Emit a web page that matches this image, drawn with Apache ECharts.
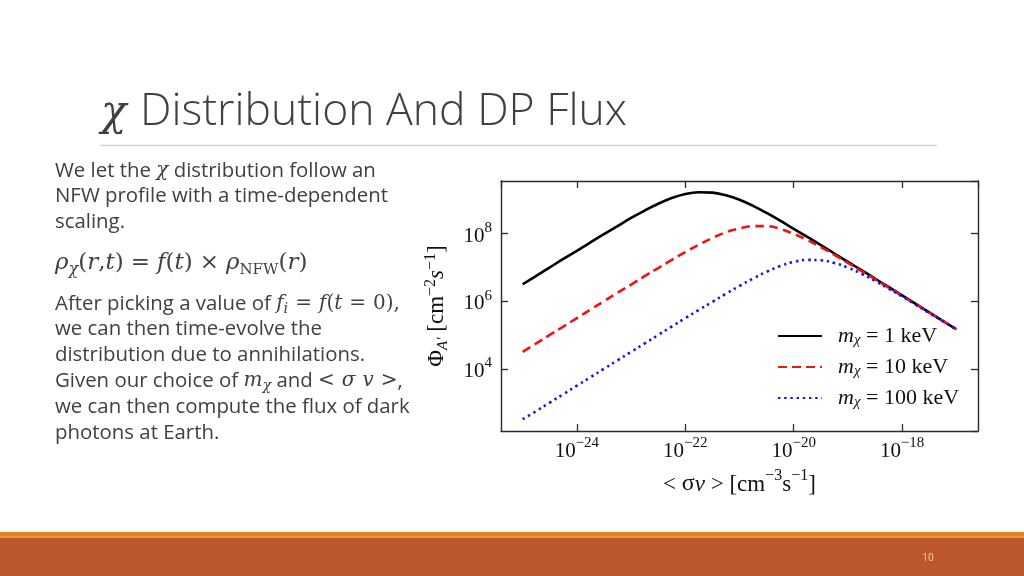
<!DOCTYPE html>
<html>
<head>
<meta charset="utf-8">
<script src="https://cdn.jsdelivr.net/npm/echarts@6/dist/echarts.min.js"></script>
<style>
  html, body { margin: 0; padding: 0; background: #ffffff; }
  #chart { width: 1024px; height: 576px; }
</style>
</head>
<body>
<div id="chart"></div>
<script>
// ---- data, values as log10 ----
const log10SigmaV = [-25, -24.75, -24.5, -24.25, -24, -23.75, -23.5, -23.25, -23, -22.75, -22.5, -22.25, -22, -21.75, -21.5, -21.25, -21,
                     -20.75, -20.5, -20.25, -20, -19.75, -19.5, -19.25, -19, -18.75, -18.5, -18.25, -18, -17.75, -17.5, -17.25, -17];
const log10Flux1keV   = [6.50, 6.75, 7.00, 7.25, 7.49, 7.74, 7.98, 8.22, 8.46, 8.68, 8.88, 9.05, 9.17, 9.22, 9.21, 9.13, 9.00,
                         8.82, 8.61, 8.38, 8.14, 7.90, 7.66, 7.41, 7.16, 6.92, 6.67, 6.42, 6.17, 5.92, 5.67, 5.42, 5.17];
const log10Flux10keV  = [4.50, 4.75, 5.00, 5.25, 5.50, 5.75, 6.00, 6.25, 6.49, 6.74, 6.98, 7.22, 7.45, 7.67, 7.87, 8.04, 8.15,
                         8.22, 8.22, 8.14, 7.99, 7.81, 7.60, 7.37, 7.13, 6.89, 6.65, 6.40, 6.16, 5.91, 5.67, 5.42, 5.17];
const log10Flux100keV = [2.51, 2.75, 3.00, 3.25, 3.50, 3.75, 4.00, 4.25, 4.50, 4.75, 5.00, 5.25, 5.50, 5.74, 5.98, 6.22, 6.45,
                         6.67, 6.87, 7.04, 7.16, 7.22, 7.21, 7.13, 6.99, 6.81, 6.60, 6.37, 6.14, 5.90, 5.65, 5.41, 5.16];
const massLabels = ['1 keV', '10 keV', '100 keV'];
const xTickExps = [-24, -22, -20, -18];
const yTickExps = [4, 6, 8];

const seriesValues = [log10Flux1keV, log10Flux10keV, log10Flux100keV];
const seriesColors = ['#000000', '#ee1414', '#1616d8'];
const seriesDash = ['solid', [9, 5], [2.4, 3.8]];

const SERIF = '"Liberation Serif", "DejaVu Serif", serif';
const MATH = '"DejaVu Serif", "Liberation Serif", serif';
const SANS = '"Open Sans", Lato, "Noto Sans", sans-serif';
const TEXT_COLOR = '#404040';

function pairs(xs, ys) { return xs.map((x, i) => [x, ys[i]]); }
function isTick(v, list) { return list.some(t => Math.abs(t - v) < 1e-6); }
function expStr(v) { return (v < 0 ? '\u2212' : '') + Math.abs(Math.round(v)); }

const tickRich = {
  b: { fontFamily: SERIF, fontSize: 21, color: '#111', lineHeight: 26, verticalAlign: 'bottom' },
  e: { fontFamily: SERIF, fontSize: 15, color: '#111', lineHeight: 17, verticalAlign: 'top' }
};

const axisLineStyle = { color: '#2a2a2a', width: 1.4 };
const tickStyle = { show: true, inside: true, length: 7, lineStyle: { color: '#2a2a2a', width: 1.3 } };

const chart = echarts.init(document.getElementById('chart'), null, { renderer: 'canvas' });

const bodyRich = {
  t: { fontFamily: SANS, fontSize: 20.4, color: TEXT_COLOR, lineHeight: 26 },
  m: { fontFamily: MATH, fontStyle: 'italic', fontSize: 20, color: TEXT_COLOR, lineHeight: 26 },
  mn: { fontFamily: MATH, fontSize: 20, color: TEXT_COLOR, lineHeight: 26 },
  ms: { fontFamily: MATH, fontStyle: 'italic', fontSize: 14.5, color: TEXT_COLOR, lineHeight: 16, verticalAlign: 'bottom' },
  sp: { width: 7 },
  fm: { fontFamily: MATH, fontStyle: 'italic', fontSize: 23, color: TEXT_COLOR, lineHeight: 30 },
  fn: { fontFamily: MATH, fontSize: 23, color: TEXT_COLOR, lineHeight: 30 },
  fs: { fontFamily: MATH, fontStyle: 'italic', fontSize: 16, color: TEXT_COLOR, lineHeight: 18, verticalAlign: 'bottom' },
  fsn: { fontFamily: MATH, fontSize: 15, color: TEXT_COLOR, lineHeight: 18, verticalAlign: 'bottom' },
  fsp: { width: 7 }
};

const bodyLines = [
  { y: 171, text: '{t|We let the }{m|χ}{t| distribution follow an}' },
  { y: 196.5, text: '{t|NFW profile with a time-dependent}' },
  { y: 222, text: '{t|scaling.}' },
  { y: 263, text: '{fm|ρ}{fs|χ}{fn|(}{fm|r}{fn|,}{fm|t}{fn|)}{fsp|}{fn|=}{fsp|}{fm|f}{fn|(}{fm|t}{fn|)}{fsp|}{fn|×}{fsp|}{fm|ρ}{fsn|NFW}{fn|(}{fm|r}{fn|)}' },
  { y: 304, text: '{t|After picking a value of }{m|f}{ms|i}{sp|}{mn|=}{sp|}{m|f}{mn|(}{m|t}{sp|}{mn|=}{sp|}{mn|0),}' },
  { y: 329.5, text: '{t|we can then time-evolve the}' },
  { y: 355, text: '{t|distribution due to annihilations.}' },
  { y: 381, text: '{t|Given our choice of }{m|m}{ms|χ}{t| and }{mn|<}{sp|}{m|σ}{sp|}{m|v}{sp|}{mn|>}{t|,}' },
  { y: 407, text: '{t|we can then compute the flux of dark}' },
  { y: 433, text: '{t|photons at Earth.}' }
];

const graphics = [
  { type: 'text', x: 101, y: 114, style: { text: 'χ', fontFamily: MATH, fontStyle: 'italic', fontSize: 42, fill: TEXT_COLOR, verticalAlign: 'middle' } },
  { type: 'text', x: 140, y: 112, style: { text: 'Distribution And DP Flux', fontFamily: SANS, fontWeight: 300, fontSize: 44.5, fill: TEXT_COLOR, verticalAlign: 'middle' } },
  { type: 'line', shape: { x1: 100, y1: 145.5, x2: 937, y2: 145.5 }, style: { stroke: '#d4d4d4', lineWidth: 1.5 } },
  { type: 'rect', shape: { x: 0, y: 532, width: 1024, height: 5 }, style: { fill: '#df8420' } },
  { type: 'rect', shape: { x: 0, y: 536.5, width: 1024, height: 1 }, style: { fill: '#eeaa66' } },
  { type: 'rect', shape: { x: 0, y: 537.5, width: 1024, height: 39 }, style: { fill: '#bc582c' } },
  { type: 'text', x: 928, y: 558, style: { text: '10', fontFamily: SANS, fontSize: 10, fill: '#f6d2b4', align: 'center', verticalAlign: 'middle' } }
];
bodyLines.forEach(l => graphics.push({
  type: 'text', x: 55, y: l.y,
  style: { text: l.text, rich: bodyRich, fill: TEXT_COLOR, verticalAlign: 'middle' }
}));

const legendRich = {
  pad: { width: 11 },
  m: { fontFamily: SERIF, fontStyle: 'italic', fontSize: 22, color: '#111', lineHeight: 24, verticalAlign: 'middle' },
  s: { fontFamily: SERIF, fontStyle: 'italic', fontSize: 15, color: '#111', lineHeight: 14, verticalAlign: 'bottom' },
  t: { fontFamily: SERIF, fontSize: 22, color: '#111', lineHeight: 24, verticalAlign: 'middle' }
};

const option = {
  animation: false,
  backgroundColor: '#ffffff',
  grid: { left: 501, right: 46, top: 181, bottom: 145, containLabel: false },
  xAxis: [
    {
      type: 'value', position: 'bottom', min: -25.4, max: -16.6, splitNumber: 4,
      axisLine: { show: true, lineStyle: axisLineStyle },
      axisTick: tickStyle,
      splitLine: { show: false },
      axisLabel: {
        show: true, margin: 5, showMinLabel: false, showMaxLabel: false,
        formatter: v => isTick(v, xTickExps) ? '{b|10}{e|' + expStr(v) + '}' : '',
        rich: tickRich
      },
      name: '{l|< }{g|σ}{v|v}{l| > [cm}{sup|−3}{l|s}{sup|−1}{l|]}',
      nameLocation: 'middle', nameGap: 37,
      nameTextStyle: {
        rich: {
          l: { fontFamily: SERIF, fontSize: 23, color: '#111', lineHeight: 28, verticalAlign: 'bottom' },
          g: { fontFamily: SERIF, fontSize: 24, color: '#111', lineHeight: 28, verticalAlign: 'bottom' },
          v: { fontFamily: SERIF, fontStyle: 'italic', fontSize: 23, color: '#111', lineHeight: 28, verticalAlign: 'bottom' },
          sup: { fontFamily: SERIF, fontSize: 16, color: '#111', lineHeight: 17, verticalAlign: 'top' }
        }
      }
    },
    {
      type: 'value', position: 'top', min: -25.4, max: -16.6, splitNumber: 4,
      axisLine: { show: true, lineStyle: axisLineStyle },
      axisTick: tickStyle, axisLabel: { show: false }, splitLine: { show: false }
    }
  ],
  yAxis: [
    {
      type: 'value', position: 'left', min: 2.16, max: 9.554, splitNumber: 4,
      axisLine: { show: true, lineStyle: axisLineStyle },
      axisTick: tickStyle,
      splitLine: { show: false },
      axisLabel: {
        show: true, margin: 9, showMinLabel: false, showMaxLabel: false,
        formatter: v => isTick(v, yTickExps) ? '{b|10}{e|' + expStr(v) + '}' : '',
        rich: tickRich
      },
      name: '{l|Φ}{sub|A′}{l| [cm}{sup|−2}{it|s}{sup|−1}{l|]}',
      nameLocation: 'middle', nameGap: 50, nameRotate: 90,
      nameTextStyle: {
        rich: {
          l: { fontFamily: SERIF, fontSize: 23, color: '#111', lineHeight: 28, verticalAlign: 'middle' },
          it: { fontFamily: SERIF, fontStyle: 'italic', fontSize: 23, color: '#111', lineHeight: 28, verticalAlign: 'middle' },
          sub: { fontFamily: SERIF, fontStyle: 'italic', fontSize: 15, color: '#111', lineHeight: 15, verticalAlign: 'bottom' },
          sup: { fontFamily: SERIF, fontSize: 16, color: '#111', lineHeight: 17, verticalAlign: 'top' }
        }
      }
    },
    {
      type: 'value', position: 'right', min: 2.16, max: 9.554, splitNumber: 4,
      axisLine: { show: true, lineStyle: axisLineStyle },
      axisTick: tickStyle, axisLabel: { show: false }, splitLine: { show: false }
    }
  ],
  legend: {
    orient: 'vertical', left: 777, top: 325, padding: 0,
    itemWidth: 44, itemHeight: 14, itemGap: 8,
    itemStyle: { opacity: 0 },
    data: massLabels,
    formatter: name => '{pad|}{m|m}{s|χ}{t| = ' + name + '}',
    textStyle: { rich: legendRich }
  },
  graphic: graphics,
  series: seriesValues.map((vals, i) => ({
    name: massLabels[i],
    type: 'line',
    xAxisIndex: 0, yAxisIndex: 0,
    data: pairs(log10SigmaV, vals),
    smooth: 0.4,
    symbol: 'none', showSymbol: false,
    lineStyle: { color: seriesColors[i], width: 2.6, type: seriesDash[i] },
    itemStyle: { color: seriesColors[i] },
    z: 2 + i
  }))
};

chart.setOption(option);
</script>
</body>
</html>
